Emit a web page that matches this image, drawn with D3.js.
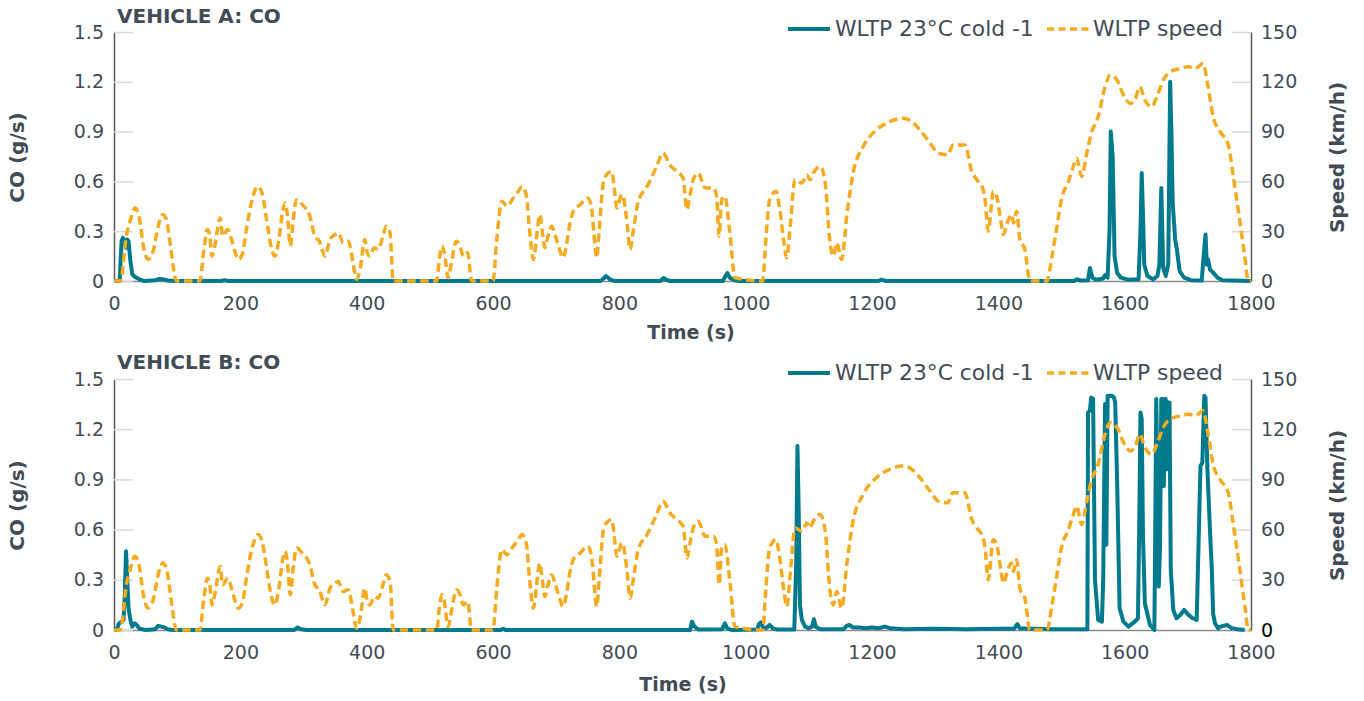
<!DOCTYPE html>
<html>
<head>
<meta charset="utf-8">
<script src="https://cdn.jsdelivr.net/npm/d3@7"></script>
<style>
  body { margin: 0; background: #fff; }
  svg { display: block; font-family: "DejaVu Sans", sans-serif; }
</style>
</head>
<body>
<div id="chart"></div>
<script>
// WLTP speed trace (same for both vehicles)
var speedTime = [0,10,20,27,33,40,47,54,62,70,77,83,88,99,136,142,148,152,155,160,168,172,180,186,192,197,203,210,218,228,235,242,248,255,261,267,271,275,279,284,289,298,310,318,325,334,342,350,355,363,371,378,384,390,397,401,405,412,418,425,431,437,442,511,515,519,523,529,535,542,547,553,560,566,600,606,614,622,632,640,646,653,658,664,670,674,678,682,687,693,698,703,711,716,722,727,738,750,756,760,764,768,775,782,788,792,796,804,806,812,817,822,830,844,859,869,880,891,901,907,912,917,925,936,949,954,958,962,967,975,983,1027,1032,1038,1048,1054,1060,1065,1071,1078,1089,1097,1102,1107,1118,1126,1133,1139,1144,1152,1160,1170,1186,1207,1228,1249,1263,1276,1292,1305,1320,1328,1347,1358,1366,1376,1379,1384,1392,1398,1404,1408,1415,1421,1424,1429,1434,1442,1450,1477,1485,1492,1501,1510,1518,1524,1532,1540,1548,1558,1569,1577,1588,1597,1609,1616,1624,1632,1643,1651,1661,1672,1688,1701,1712,1724,1732,1740,1751,1764,1772,1782,1790,1796,1800];
var speedKmh = [0,0,28,38,44,38,20,13,18,33,40,37,25,0,0,18,31,26,15,22,38,27,31,25,17,13,16,32,48,57,52,36,22,15,25,42,47,38,21,38,49,46,39,27,24,15,25,28,29,23,24,12,1,8,25,17,15,20,19,26,33,29,0,0,13,21,17,2,13,24,22,15,17,0,0,25,48,45,50,54,57,51,30,13,30,40,30,20,27,33,28,22,14,21,35,42,46,50,44,28,14,30,60,65,66,56,44,52,51,36,19,30,48,57,69,77,70,66,62,43,52,61,65,56,56,51,27,49,51,29,2,0,25,49,54,43,25,14,35,61,59,64,61,65,69,59,25,15,23,13,39,65,81,91,96,98,96,91,83,77,76,82,82,66,61,55,49,30,54,50,36,28,36,40,35,42,25,19,0,0,15,31,51,59,68,74,63,77,90,99,117,124,121,113,107,109,117,109,105,111,121,126,128,129,128,131,117,99,90,82,63,37,15,0,0];

// CO emission rate, vehicle A
var coTimeA = [0,9,12,14,17,19,21,23,26,29,33,40,48,65,72,78,85,95,170,175,180,770,775,779,785,792,865,870,876,880,964,968,971,975,982,990,1210,1215,1222,1520,1524,1530,1542,1545,1549,1555,1566,1569,1573,1576,1578,1581,1584,1588,1594,1605,1622,1625,1627,1629,1631,1636,1645,1652,1655,1658,1661,1665,1669,1672,1674,1676,1680,1683,1687,1694,1705,1722,1725,1728,1730,1732,1735,1740,1747,1755,1800];
var coA = [0,0,0.24,0.26,0.24,0.2,0.25,0.24,0.12,0.04,0.025,0.01,0,0.005,0.012,0.01,0.003,0,0,0.005,0,0,0.015,0.03,0.01,0,0,0.018,0.005,0,0,0.03,0.048,0.02,0.005,0,0,0.008,0,0,0.01,0.003,0.005,0.078,0.02,0.008,0.015,0.036,0.02,0.3,0.9,0.75,0.15,0.05,0.02,0.008,0.01,0.3,0.65,0.4,0.1,0.03,0.01,0.03,0.1,0.56,0.08,0.03,0.1,1.2,0.9,0.47,0.25,0.18,0.06,0.02,0.005,0.003,0.15,0.28,0.1,0.13,0.07,0.05,0.02,0.005,0];

// CO emission rate, vehicle B
var coTimeB = [0,4,8,12,15,17,19,21,23,26,29,33,36,40,50,65,70,75,80,85,92,285,291,296,305,612,616,620,912,915,919,925,963,967,971,978,1018,1021,1024,1028,1034,1038,1043,1050,1077,1080,1082,1084,1086,1089,1094,1100,1105,1108,1111,1118,1155,1160,1164,1170,1180,1190,1200,1210,1220,1230,1250,1300,1350,1400,1425,1430,1434,1480,1541,1542,1545,1547,1550,1553,1558,1564,1566,1569,1571,1573,1577,1580,1583,1585,1588,1592,1598,1606,1616,1621,1623,1625,1627,1629,1632,1640,1647,1648,1650,1652,1654,1656,1658,1660,1662,1664,1665,1667,1669,1671,1673,1677,1682,1688,1694,1701,1708,1714,1720,1723,1726,1728,1731,1735,1738,1740,1743,1748,1752,1762,1766,1770,1778,1790,1800];
var coB = [0,0,0.04,0.05,0.06,0.2,0.47,0.3,0.13,0.06,0.02,0.04,0.03,0.008,0,0.005,0.025,0.02,0.015,0.005,0,0,0.015,0.005,0,0,0.008,0,0,0.05,0.02,0.003,0.005,0.04,0.01,0,0.003,0.035,0.045,0.01,0.015,0.03,0.01,0.003,0.003,0.4,1.1,0.7,0.15,0.06,0.02,0.01,0.02,0.065,0.02,0.005,0.005,0.025,0.03,0.015,0.015,0.01,0.015,0.01,0.02,0.01,0.005,0.008,0.005,0.008,0.008,0.035,0.01,0.005,0.005,1.3,1.31,1.39,1.38,0.3,0.06,0.05,0.3,1.35,0.51,1.4,1.4,1.4,1.39,1.36,0.9,0.13,0.05,0.02,0.05,0.07,0.6,1.3,1.26,0.56,0.16,0.03,0,0.4,1.38,0.9,0.26,0.5,1.38,1.38,0.86,1.38,1.38,0.96,1.36,1.36,0.36,0.12,0.07,0.09,0.12,0.09,0.07,0.06,0.98,1.0,1.4,1.39,0.96,0.6,0.36,0.1,0.04,0.01,0.02,0.03,0.02,0.01,0.005,0];

var timeTicks = [0,200,400,600,800,1000,1200,1400,1600,1800];
var coTicks = [0,0.3,0.6,0.9,1.2,1.5];
var speedTicks = [0,30,60,90,120,150];
var seriesNames = ["WLTP 23°C cold -1", "WLTP speed"];

var tealColor = "#007a8c";
var orangeColor = "#f5aa1f";
var textColor = "#414c56";

var svg = d3.select("#chart")
            .append("svg")
            .attr("width", 1364)
            .attr("height", 701);

svg.append("rect")
   .attr("width", 1364)
   .attr("height", 701)
   .attr("fill", "#fff");

var left = 114, right = 1251;

var x = d3.scaleLinear()
          .domain([0, 1800])
          .range([left, right]);

var speedData = speedTime.map(function(t, i) { return [t, speedKmh[i]]; });

// draws one vehicle panel
function drawPanel(p) {
  var g = svg.append("g");

  var yCo = d3.scaleLinear().domain([0, 1.5]).range([p.bottom, p.top]);
  var ySpeed = d3.scaleLinear().domain([0, 150]).range([p.bottom, p.top]);

  //x axis
  var xAxis = d3.axisBottom(x)
                .tickValues(timeTicks)
                .tickSize(0)
                .tickPadding(16)
                .tickFormat(d3.format("d"));
  var gx = g.append("g")
            .attr("transform", "translate(0," + p.bottom + ")")
            .call(xAxis);
  gx.select(".domain").attr("stroke", "#8c8c8c").attr("stroke-width", 1.5);
  gx.selectAll("text").attr("fill", textColor).style("font-size", "19px").style("font-family", "DejaVu Sans");

  //left axis with short inward grid stubs
  var yAxis = d3.axisLeft(yCo)
                .tickValues(coTicks)
                .tickSizeInner(-19)
                .tickSizeOuter(0)
                .tickPadding(10)
                .tickFormat(function(d) { return d === 0 ? "0" : d3.format(".1f")(d); });
  var gy = g.append("g")
            .attr("transform", "translate(" + left + ",0)")
            .call(yAxis);
  gy.select(".domain").attr("stroke", "#5a5a5a").attr("stroke-width", 1.5);
  gy.selectAll(".tick line").attr("stroke", "#d9d9d9").attr("stroke-width", 1.5);
  gy.selectAll("text").attr("fill", textColor).style("font-size", "19px").style("font-family", "DejaVu Sans");

  //right axis
  var yAxis2 = d3.axisRight(ySpeed)
                 .tickValues(speedTicks)
                 .tickSizeInner(-19)
                 .tickSizeOuter(0)
                 .tickPadding(10);
  var gy2 = g.append("g")
             .attr("transform", "translate(" + right + ",0)")
             .call(yAxis2);
  gy2.select(".domain").attr("stroke", "#5a5a5a").attr("stroke-width", 1.5);
  gy2.selectAll(".tick line").attr("stroke", "#d9d9d9").attr("stroke-width", 1.5);
  gy2.selectAll("text").attr("fill", function(d) { return (d === 0 && p.blackZero) ? "#000" : textColor; })
     .style("font-size", "19px").style("font-family", "DejaVu Sans");

  //CO line
  var coData = p.coTime.map(function(t, i) { return [t, p.co[i]]; });
  var coLine = d3.line()
                 .x(function(d) { return x(d[0]); })
                 .y(function(d) { return yCo(d[1]); });
  g.append("path")
   .datum(coData)
   .attr("d", coLine)
   .attr("fill", "none")
   .attr("stroke", tealColor)
   .attr("stroke-width", 4)
   .attr("stroke-linejoin", "round");

  //speed line
  var speedLine = d3.line()
                    .curve(d3.curveMonotoneX)
                    .x(function(d) { return x(d[0]); })
                    .y(function(d) { return ySpeed(d[1]); });
  g.append("path")
   .datum(speedData)
   .attr("d", speedLine)
   .attr("fill", "none")
   .attr("stroke", orangeColor)
   .attr("stroke-width", 3.5)
   .attr("stroke-dasharray", "8.5,4.5");

  //title
  g.append("text")
   .attr("x", 117)
   .attr("y", p.titleY)
   .attr("fill", textColor)
   .style("font-size", "20px")
   .style("font-weight", "bold")
   .text(p.title);

  //axis titles
  g.append("text")
   .attr("x", p.timeX)
   .attr("y", p.timeY)
   .attr("fill", textColor)
   .style("font-size", "19px")
   .style("font-weight", "bold")
   .style("text-anchor", "middle")
   .text("Time (s)");

  var mid = (p.top + p.bottom) / 2 + 1;
  g.append("text")
   .attr("transform", "translate(24," + mid + ") rotate(-90)")
   .attr("fill", textColor)
   .style("font-size", "20px")
   .style("font-weight", "bold")
   .style("text-anchor", "middle")
   .text("CO (g/s)");

  g.append("text")
   .attr("transform", "translate(1344," + mid + ") rotate(-90)")
   .attr("fill", textColor)
   .style("font-size", "20px")
   .style("font-weight", "bold")
   .style("text-anchor", "middle")
   .text("Speed (km/h)");

  //legend
  var lg = g.append("g").attr("transform", "translate(0," + p.legendY + ")");
  lg.append("line")
    .attr("x1", 788).attr("x2", 830)
    .attr("stroke", tealColor).attr("stroke-width", 4);
  lg.append("text")
    .attr("x", 835).attr("y", 7)
    .attr("fill", textColor)
    .style("font-size", "21.8px")
    .text(seriesNames[0]);
  lg.append("line")
    .attr("x1", 1047).attr("x2", 1090)
    .attr("stroke", orangeColor).attr("stroke-width", 3.5)
    .attr("stroke-dasharray", "7,4.5");
  lg.append("text")
    .attr("x", 1093).attr("y", 7)
    .attr("fill", textColor)
    .style("font-size", "21.8px")
    .text(seriesNames[1]);
}

drawPanel({top: 32, bottom: 281, title: "VEHICLE A: CO", titleY: 23, legendY: 29,
           timeX: 691, timeY: 339, coTime: coTimeA, co: coA, blackZero: false});
drawPanel({top: 379, bottom: 630, title: "VEHICLE B: CO", titleY: 369, legendY: 373,
           timeX: 683, timeY: 691, coTime: coTimeB, co: coB, blackZero: true});
</script>
</body>
</html>
